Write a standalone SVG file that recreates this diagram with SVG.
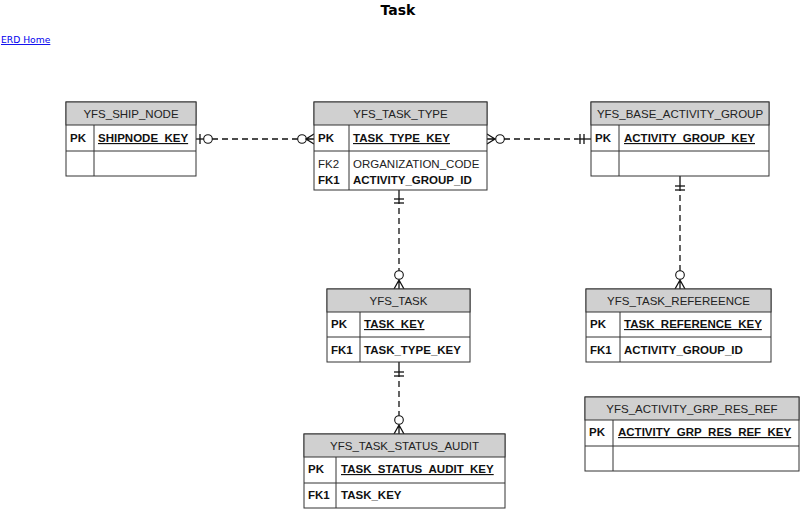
<svg xmlns="http://www.w3.org/2000/svg" width="800" height="509" viewBox="0 0 800 509">
<style>
.box{fill:#ffffff;stroke:#333333;stroke-width:1}
.hdr{fill:#d0d0d0;stroke:#333333;stroke-width:1}
.ln{stroke:#333333;stroke-width:1;fill:none}
.ht{font-family:"Liberation Sans",Arial,sans-serif;font-size:11.5px;fill:#222222;text-anchor:middle}
.k{font-family:"Liberation Sans",Arial,sans-serif;font-size:11.5px;font-weight:bold;fill:#111111}
.r{font-family:"Liberation Sans",Arial,sans-serif;font-size:11.5px;fill:#222222}
.u{text-decoration:underline}
.c{stroke:#111111;stroke-width:1.3;fill:none}
.d{stroke:#111111;stroke-width:1.3;fill:none;stroke-dasharray:6,4}
.o{stroke:#111111;stroke-width:1.1;fill:#ffffff}
</style>
<text x="398" y="15" font-family="'DejaVu Sans',Verdana,sans-serif" font-size="14" font-weight="bold" text-anchor="middle" fill="#000">Task</text>
<text x="1" y="43" font-family="'DejaVu Sans',Verdana,sans-serif" font-size="9.2" fill="#0000ee" text-decoration="underline">ERD Home</text>

<g id="connectors">
  <!-- SHIP_NODE - TASK_TYPE -->
  <line class="c" x1="196" y1="139" x2="204" y2="139"/>
  <line class="c" x1="200" y1="134" x2="200" y2="144"/>
  <line class="d" x1="212" y1="139" x2="298" y2="139"/>
  <circle class="o" cx="208" cy="139" r="4.3"/>
  <circle class="o" cx="302" cy="139" r="4.3"/>
  <path class="c" d="M314,134 L306,139 L314,144 M306,139 L314,139"/>
  <!-- TASK_TYPE - BASE_ACTIVITY_GROUP -->
  <path class="c" d="M487,134 L495,139 L487,144 M487,139 L495,139"/>
  <circle class="o" cx="500" cy="139" r="4.3"/>
  <line class="d" x1="504" y1="139" x2="578" y2="139"/>
  <line class="c" x1="578" y1="139" x2="591" y2="139"/>
  <line class="c" x1="580" y1="134" x2="580" y2="144"/>
  <line class="c" x1="584" y1="134" x2="584" y2="144"/>
  <!-- TASK_TYPE - TASK -->
  <line class="c" x1="399" y1="190" x2="399" y2="204"/>
  <line class="c" x1="394" y1="199" x2="404" y2="199"/>
  <line class="c" x1="394" y1="203" x2="404" y2="203"/>
  <line class="d" x1="399" y1="208" x2="399" y2="271"/>
  <circle class="o" cx="399" cy="275" r="4.3"/>
  <path class="c" d="M394,289 L399,280 L404,289 M399,280 L399,289"/>
  <!-- BASE_ACTIVITY_GROUP - TASK_REFEREENCE -->
  <line class="c" x1="680" y1="176" x2="680" y2="191"/>
  <line class="c" x1="675" y1="186" x2="685" y2="186"/>
  <line class="c" x1="675" y1="190" x2="685" y2="190"/>
  <line class="d" x1="680" y1="195" x2="680" y2="271"/>
  <circle class="o" cx="680" cy="275" r="4.3"/>
  <path class="c" d="M675,289 L680,280 L685,289 M680,280 L680,289"/>
  <!-- TASK - TASK_STATUS_AUDIT -->
  <line class="c" x1="399" y1="362" x2="399" y2="377"/>
  <line class="c" x1="394" y1="372" x2="404" y2="372"/>
  <line class="c" x1="394" y1="376" x2="404" y2="376"/>
  <line class="d" x1="399" y1="381" x2="399" y2="416"/>
  <circle class="o" cx="399" cy="420" r="4.3"/>
  <path class="c" d="M394,434 L399,425 L404,434 M399,425 L399,434"/>
</g>

<g id="YFS_SHIP_NODE">
  <rect class="box" x="66" y="102" width="130" height="74"/>
  <rect class="hdr" x="66" y="102" width="130" height="23"/>
  <line class="ln" x1="66" y1="151" x2="196" y2="151"/>
  <line class="ln" x1="94" y1="125" x2="94" y2="176"/>
  <text class="ht" x="131" y="118">YFS_SHIP_NODE</text>
  <text class="k" x="70" y="142">PK</text>
  <text class="k u" x="98" y="142">SHIPNODE_KEY</text>
</g>

<g id="YFS_TASK_TYPE">
  <rect class="box" x="314" y="102" width="173" height="88"/>
  <rect class="hdr" x="314" y="102" width="173" height="23"/>
  <line class="ln" x1="314" y1="151" x2="487" y2="151"/>
  <line class="ln" x1="349" y1="125" x2="349" y2="190"/>
  <text class="ht" x="400.5" y="118">YFS_TASK_TYPE</text>
  <text class="k" x="318" y="142">PK</text>
  <text class="k u" x="353" y="142">TASK_TYPE_KEY</text>
  <text class="r" x="318" y="168">FK2</text>
  <text class="r" x="353" y="168">ORGANIZATION_CODE</text>
  <text class="k" x="318" y="184">FK1</text>
  <text class="k" x="353" y="184">ACTIVITY_GROUP_ID</text>
</g>

<g id="YFS_BASE_ACTIVITY_GROUP">
  <rect class="box" x="591" y="102" width="178" height="74"/>
  <rect class="hdr" x="591" y="102" width="178" height="23"/>
  <line class="ln" x1="591" y1="151" x2="769" y2="151"/>
  <line class="ln" x1="619" y1="125" x2="619" y2="176"/>
  <text class="ht" x="680" y="118">YFS_BASE_ACTIVITY_GROUP</text>
  <text class="k" x="595" y="142">PK</text>
  <text class="k u" x="624" y="142">ACTIVITY_GROUP_KEY</text>
</g>

<g id="YFS_TASK">
  <rect class="box" x="327" y="289" width="143" height="73"/>
  <rect class="hdr" x="327" y="289" width="143" height="23"/>
  <line class="ln" x1="327" y1="337" x2="470" y2="337"/>
  <line class="ln" x1="360" y1="312" x2="360" y2="362"/>
  <text class="ht" x="398.5" y="305">YFS_TASK</text>
  <text class="k" x="331" y="328">PK</text>
  <text class="k u" x="364" y="328">TASK_KEY</text>
  <text class="k" x="331" y="354">FK1</text>
  <text class="k" x="364" y="354">TASK_TYPE_KEY</text>
</g>

<g id="YFS_TASK_REFEREENCE">
  <rect class="box" x="586" y="289" width="185" height="73"/>
  <rect class="hdr" x="586" y="289" width="185" height="23"/>
  <line class="ln" x1="586" y1="337" x2="771" y2="337"/>
  <line class="ln" x1="620" y1="312" x2="620" y2="362"/>
  <text class="ht" x="678.5" y="305">YFS_TASK_REFEREENCE</text>
  <text class="k" x="590" y="328">PK</text>
  <text class="k u" x="624" y="328">TASK_REFERENCE_KEY</text>
  <text class="k" x="590" y="354">FK1</text>
  <text class="k" x="624" y="354">ACTIVITY_GROUP_ID</text>
</g>

<g id="YFS_ACTIVITY_GRP_RES_REF">
  <rect class="box" x="585" y="397" width="214" height="74"/>
  <rect class="hdr" x="585" y="397" width="214" height="23"/>
  <line class="ln" x1="585" y1="446" x2="799" y2="446"/>
  <line class="ln" x1="613" y1="420" x2="613" y2="471"/>
  <text class="ht" x="692" y="413">YFS_ACTIVITY_GRP_RES_REF</text>
  <text class="k" x="589" y="436">PK</text>
  <text class="k u" x="618" y="436">ACTIVITY_GRP_RES_REF_KEY</text>
</g>

<g id="YFS_TASK_STATUS_AUDIT">
  <rect class="box" x="304" y="434" width="201" height="74"/>
  <rect class="hdr" x="304" y="434" width="201" height="23"/>
  <line class="ln" x1="304" y1="483" x2="505" y2="483"/>
  <line class="ln" x1="336" y1="457" x2="336" y2="508"/>
  <text class="ht" x="404.5" y="450">YFS_TASK_STATUS_AUDIT</text>
  <text class="k" x="308" y="473">PK</text>
  <text class="k u" x="341" y="473">TASK_STATUS_AUDIT_KEY</text>
  <text class="k" x="308" y="499">FK1</text>
  <text class="k" x="341" y="499">TASK_KEY</text>
</g>
</svg>
